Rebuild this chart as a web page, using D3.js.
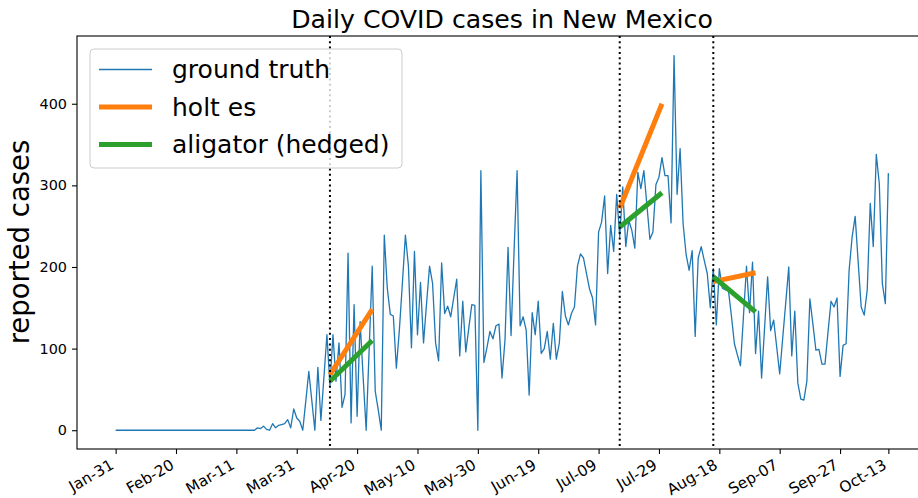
<!DOCTYPE html>
<html>
<head>
<meta charset="utf-8">
<script src="https://cdn.jsdelivr.net/npm/d3@7"></script>
<style>
  body { margin: 0; background: #fff; }
  text { font-family: "DejaVu Sans", sans-serif; }
</style>
</head>
<body>
<svg width="918" height="498"></svg>
<script>
// daily reported cases, one value per day starting Jan-31
const startDate = "2020-01-31";
const groundTruth = [
  0, 0, 0, 0, 0, 0, 0, 0, 0, 0, 0, 0, 0, 0, 0, 0, 0, 0, 0, 0,
  0, 0, 0, 0, 0, 0, 0, 0, 0, 0, 0, 0, 0, 0, 0, 0, 0, 0, 0, 0,
  0, 0, 0, 0, 0, 0, 0, 3, 2, 5, 1, 0, 8, 3, 6, 7, 8, 13, 3, 26,
  15, 11, 0, 36, 72, 36, 0, 77, 12, 65, 117, 55, 117, 60, 107, 28, 44, 217, 9, 154,
  17, 133, 65, 0, 100, 201, 48, 25, 0, 239, 174, 142, 140, 76, 123, 180, 239, 201, 101, 219,
  117, 181, 107, 155, 201, 180, 107, 85, 205, 143, 152, 139, 162, 185, 91, 158, 96, 125, 154, 153,
  0, 318, 83, 101, 121, 112, 128, 130, 64, 111, 224, 116, 220, 318, 128, 139, 123, 43, 144, 117,
  158, 94, 100, 121, 87, 131, 87, 107, 170, 140, 129, 143, 151, 201, 216, 211, 192, 173, 162, 129,
  243, 255, 287, 192, 251, 219, 289, 237, 298, 225, 257, 245, 223, 316, 296, 318, 276, 234, 243, 301,
  310, 334, 312, 312, 254, 459, 289, 345, 253, 215, 196, 220, 115, 211, 225, 208, 192, 150, 198, 129,
  198, 174, 172, 172, 140, 106, 92, 79, 140, 201, 144, 206, 94, 146, 64, 126, 188, 122, 135, 102,
  69, 113, 156, 200, 91, 146, 58, 38, 37, 60, 161, 130, 98, 99, 81, 81, 120, 158, 151, 162,
  66, 104, 106, 196, 237, 262, 206, 151, 141, 172, 278, 225, 338, 302, 180, 155, 315
];

// forecast windows: start date, horizon in days, start/end values
const cutDates = ["2020-04-11", "2020-07-16", "2020-08-16"];
const horizonDays = 14;
const holtEs = [[68, 148], [272, 400], [182, 193]];
const aligator = [[60, 110], [249, 291], [188, 145]];

const tickDates = ["2020-01-31", "2020-02-20", "2020-03-11", "2020-03-31", "2020-04-20",
  "2020-05-10", "2020-05-30", "2020-06-19", "2020-07-09", "2020-07-29", "2020-08-18",
  "2020-09-07", "2020-09-27", "2020-10-13"];
const yTicks = [0, 100, 200, 300, 400];

const parse = d3.utcParse("%Y-%m-%d");
const day = 864e5;
const t0 = parse(startDate);
const data = groundTruth.map((v, i) => ({ date: new Date(+t0 + i * day), value: v }));

const svg = d3.select("svg");
const plotLeft = 77, plotRight = 927, plotTop = 36, plotBottom = 449;

const x = d3.scaleUtc()
  .domain([new Date(+t0 - 12.8 * day), new Date(+t0 + 268.8 * day)])
  .range([plotLeft, plotRight]);
const y = d3.scaleLinear().domain([-23, 483]).range([plotBottom, plotTop]);

// ground truth
svg.append("path")
  .datum(data)
  .attr("fill", "none")
  .attr("stroke", "#1f77b4")
  .attr("stroke-width", 1.3)
  .attr("stroke-linejoin", "round")
  .attr("d", d3.line().x((d) => x(d.date)).y((d) => y(d.value)));

// forecasts
const fLine = d3.line().x((d) => x(d[0])).y((d) => y(d[1]));
function forecast(series, color) {
  cutDates.forEach((c, i) => {
    const s = parse(c), e = new Date(+s + horizonDays * day);
    svg.append("path")
      .attr("fill", "none")
      .attr("stroke", color)
      .attr("stroke-width", 5)
      .attr("d", fLine([[s, series[i][0]], [e, series[i][1]]]));
  });
}
forecast(holtEs, "#ff7f0e");
forecast(aligator, "#2ca02c");

// cut lines
svg.append("g")
  .selectAll("line")
  .data(cutDates)
  .join("line")
  .attr("x1", (d) => x(parse(d)))
  .attr("x2", (d) => x(parse(d)))
  .attr("y1", plotTop)
  .attr("y2", plotBottom)
  .attr("stroke", "#000")
  .attr("stroke-width", 2)
  .attr("stroke-dasharray", "2,3.3");

// axes
const xAxis = svg.append("g")
  .attr("transform", `translate(0,${plotBottom})`)
  .call(d3.axisBottom(x)
    .tickValues(tickDates.map(parse))
    .tickFormat(d3.utcFormat("%b-%d"))
    .tickSize(5)
    .tickSizeOuter(0));

const yAxis = svg.append("g")
  .attr("transform", `translate(${plotLeft},0)`)
  .call(d3.axisLeft(y).tickValues(yTicks).tickSize(5).tickPadding(5).tickSizeOuter(0));

svg.selectAll(".tick text").attr("fill", "#000");
svg.selectAll(".tick line").attr("stroke", "#000").attr("stroke-width", 1.1);
svg.selectAll(".domain").remove();
yAxis.selectAll("text").attr("font-size", 14.4);
xAxis.selectAll("text")
  .attr("font-size", 15.3)
  .attr("y", 0)
  .attr("dy", "0.75em")
  .attr("text-anchor", "end")
  .attr("transform", "translate(-7,9) rotate(-30)");

// spines
svg.append("rect")
  .attr("x", plotLeft)
  .attr("y", plotTop)
  .attr("width", plotRight - plotLeft)
  .attr("height", plotBottom - plotTop)
  .attr("fill", "none")
  .attr("stroke", "#000")
  .attr("stroke-width", 1.1);

// title and label
svg.append("text")
  .attr("x", (plotLeft + plotRight) / 2)
  .attr("y", 28)
  .attr("text-anchor", "middle")
  .attr("font-size", 25.2)
  .text("Daily COVID cases in New Mexico");

svg.append("text")
  .attr("transform", "translate(29,242) rotate(-90)")
  .attr("text-anchor", "middle")
  .attr("font-size", 27.5)
  .text("reported cases");

// legend
const legendItems = [
  { label: "ground truth", color: "#1f77b4", width: 1.3 },
  { label: "holt es", color: "#ff7f0e", width: 5 },
  { label: "aligator (hedged)", color: "#2ca02c", width: 5 }
];
const legend = svg.append("g");
legend.append("rect")
  .attr("x", 90)
  .attr("y", 49)
  .attr("width", 312)
  .attr("height", 119)
  .attr("rx", 4)
  .attr("fill", "#fff")
  .attr("fill-opacity", 0.8)
  .attr("stroke", "#ccc")
  .attr("stroke-width", 1);
const rows = legend.selectAll("g.row")
  .data(legendItems)
  .join("g")
  .attr("class", "row")
  .attr("transform", (d, i) => `translate(0,${69.5 + i * 37.5})`);
rows.append("line")
  .attr("x1", 99)
  .attr("x2", 152)
  .attr("stroke", (d) => d.color)
  .attr("stroke-width", (d) => d.width);
rows.append("text")
  .attr("x", 172)
  .attr("dy", "0.35em")
  .attr("font-size", 25)
  .text((d) => d.label);
</script>
</body>
</html>
